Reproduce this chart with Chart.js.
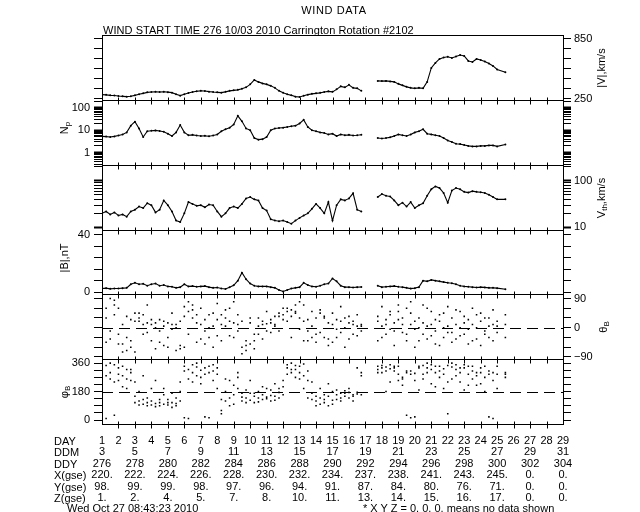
<!DOCTYPE html>
<html>
<head>
<meta charset="utf-8">
<script src="https://cdn.jsdelivr.net/npm/chart.js@4.4.1/dist/chart.umd.min.js"></script>
<style>
  html, body { margin: 0; padding: 0; background: #fff; }
  #wrap { position: relative; width: 640px; height: 512px; font-family: 'Liberation Sans', Arial, sans-serif; font-size: 11px; color: #000; }
  #wrap canvas { position: absolute; left: 0; top: 0; }
  .t { position: absolute; white-space: nowrap; line-height: 11px; }
  .r { position: absolute; white-space: nowrap; line-height: 11px; transform: translate(-50%, -50%) rotate(-90deg); }
  sub { font-size: 8px; vertical-align: -2px; line-height: 0; }
</style>
</head>
<body>
<div id="wrap">
  <canvas id="myChart" width="640" height="512"></canvas>
  <div class="t" style="left:334px;top:5px;transform:translateX(-50%);letter-spacing:0.6px">WIND DATA</div>
  <div class="t" style="left:103px;top:25px;letter-spacing:0.05px">WIND START TIME 276 10/03 2010 Carrington Rotation #2102</div>
  <div class="r" style="left:601px;top:68px">|V|,km/s</div>
  <div class="r" style="left:601px;top:198px">V<sub>th</sub>,km/s</div>
  <div class="r" style="left:603px;top:327px">&theta;<sub>B</sub></div>
  <div class="r" style="left:64px;top:128px">N<sub>p</sub></div>
  <div class="r" style="left:64px;top:258px">|B|,nT</div>
  <div class="r" style="left:64px;top:392px">&phi;<sub>B</sub></div>
  <div class="t" style="left:54px;top:435.5px">DAY</div>
  <div class="t" style="left:54px;top:447px">DDM</div>
  <div class="t" style="left:54px;top:458.5px">DDY</div>
  <div class="t" style="left:54px;top:470px">X(gse)</div>
  <div class="t" style="left:54px;top:481.5px">Y(gse)</div>
  <div class="t" style="left:54px;top:493px">Z(gse)</div>
  <div class="t" style="left:67px;top:503px">Wed Oct 27 08:43:23 2010</div>
  <div class="t" style="left:363px;top:503px">* X Y Z = 0. 0. 0. means no data shown</div>
</div>
<script>
const FONT = "'Liberation Sans', Arial, sans-serif";

// time of each sample, in days of the rotation
const days = [1.00,1.25,1.50,1.75,2.00,2.25,2.50,2.75,3.00,3.25,3.50,3.75,4.00,4.25,4.50,4.75,
  5.00,5.25,5.50,5.75,6.00,6.25,6.50,6.75,7.00,7.25,7.50,7.75,8.00,8.25,8.50,8.75,
  9.00,9.25,9.50,9.75,10.00,10.25,10.50,10.75,11.00,11.25,11.50,11.75,12.00,12.25,12.50,12.75,
  13.00,13.25,13.50,13.75,14.00,14.25,14.50,14.75,15.00,15.25,15.50,15.75,16.00,16.25,16.50,16.75,
  17.75,18.00,18.25,18.50,18.75,19.00,19.25,19.50,19.75,20.00,20.25,20.50,20.75,21.00,21.25,21.50,
  21.75,22.00,22.25,22.50,22.75,23.00,23.25,23.50,23.75,24.00,24.25,24.50,24.75,25.00,
  25.50];

// |V| km/s
const speed = [292,290,285,283, 278,275,272,276, 285,296,305,315, 318,320,318,321,
  317,312,295,282, 296,308,318,326, 330,328,322,318, 315,312,320,330,
  335,340,352,365, 395,440,420,405, 395,380,360,330, 310,295,285,272,
  268,280,292,300, 305,310,318,325, 320,345,375,365, 390,360,355,330,
  430, 428,430,425,420, 400,385,370,360, 355,360,355,420, 560,610,650,665,
  672,660,675,690, 680,630,620,650, 640,625,605,580, 545,
  517];

// Np
const density = [5.3,5.2,5.0,5.3, 5.8,6.5,8,16, 24,12,5,9, 9.5,9.8,9.2,8.5,
  7,5.5,8,17, 8,6,6.2,5.8, 5.5,5.6,5.4,5.8, 6.5,9,11,13,
  18,44,25,12, 10,4.5,3.8,4.0, 5.0,10,12,12.5, 13,14,15,16,
  20,29,14,10, 9,8,7.5,6.5, 7,5.5,6.5,6, 6.2,5.8,6.0,6.3,
  4.5, 4.3,4.5,4.8,5.5, 6.5,6.0,5.5,6.5, 8,9,11,7, 6.5,6.0,5.5,4.5,
  3.5,3.0,2.5,2.4, 2.2,2.0,1.9,1.9, 2.0,2.0,2.1,2.1, 1.9,
  2.3];

// Vth km/s
const thermal = [20,22,19,21, 18,19,17,22, 24,28,26,33, 30,21,24,38,
  30,22,14,13, 20,35,32,29, 30,27,31,30, 22,17,20,26,
  28,26,32,42, 45,40,38,26, 23,15,14,13.5, 14,13,12,14,
  16,18,20,25, 32,26,20,35, 14,30,40,38, 42,54,24,22,
  45, 52,48,46,38, 30,34,28,35, 26,30,33,48, 66,76,70,55,
  34,62,70,66, 58,56,60,58, 57,55,50,45, 40,
  40];

// |B| nT
const field = [2.5,2.8,2.3,2.6, 2.5,2.8,3.0,5.5, 6.5,5.5,5.8,4.5, 5.5,6.0,4.5,5.0,
  4.0,3.8,3.0,3.5, 5.5,4.0,4.2,3.8, 4.0,4.2,3.5,3.0, 3.2,2.5,2.2,3.5,
  4.8,8,13.5,9, 6,4.5,4.0,4.0, 4.0,3.5,3.0,1.5, 0.5,1.5,2.5,3.0,
  3.5,6.5,5.0,4.0, 3.8,4.5,5.5,6.0, 9.5,7.5,4.5,3.5, 3.5,3.2,3.5,3.6,
  4.5, 3.5,3.8,4.0,4.2, 3.8,3.5,3.0,2.5, 2.8,3.5,8.0,7.5, 8.5,8.0,7.5,7.0,
  6.5,6.2,5.5,4.5, 4.0,3.8,3.5,3.2, 3.5,3.3,3.0,3.0, 2.8,
  2.0];

// theta_B, three readings per sample time
const thetaA = [-40,-45,-35,85, 60,-50,-70,-60, 20,30,40,15, 10,0,-10,5,
  15,-5,10,-55, -60,50,70,40, 60,-10,-30,5, 25,10,30,20,
  15,40,-60,-70, -50,-40,-20,10, 12,15,5,35, 40,50,55,45,
  30,70,-10,-30, -20,45,35,-35, 10,-5,20,0, 15,10,5,10,
  20, 5,10,-5,15, 50,30,60,10, -5,0,-20,5, 10,-10,20,0,
  5,-15,10,0, 15,-5,10,0, 20,-10,5,10, 5,
  40];
const thetaB = [20,60,-10,40, -50,10,-30,25, -75,45,-20,70, -40,-65,25,-55,
  -30,45,-70,20, 65,-20,30,-45, 10,-50,40,-60, 75,-40,55,-25,
  80,-10,20,-40, 15,-20,30,-35, 50,-15,35,-10, 60,20,-30,70,
  -5,-40,25,50, -45,-15,30,-55, 45,-30,65,-60, 35,-20,40,-10,
  -40, 65,-20,40,-55, 25,-15,-40,45, -60,30,70,-35, 50,-50,40,-30,
  65,-45,55,-25, 35,-50,60,-35, 45,-20,30,-40, 20,
  -30];
const thetaC = [-50,30,90,70, -20,-75,35,-40, 45,20,10,-15, 25,15,-45,20,
  -60,10,0,-65, 35,80,55,15, -35,25,0,45, -25,40,5,60,
  -30,10,-80,-55, 30,-65,5,20, -10,25,10,45, 25,60,35,50,
  80,20,-40,5, 30,55,-30,15, -45,25,-15,30, -35,20,-25,5,
  35, -30,25,50,-10, 70,10,-20,80, 20,-40,15,60, -25,25,-55,45,
  -15,30,-35,50, -20,25,-40,40, -55,30,-30,55, -15,
  10];

// phi_B, three readings per sample time
const phiA = [330,345,300,350, 290,280,320,250, 110,95,100,110, 120,105,90,100,
  95,110,105,120, 310,320,300,335, 315,290,340,310, 290,130,120,140,
  160,200,145,140, 125,150,140,130, 145,155,150,175, 210,330,320,345,
  300,280,250,130, 120,140,110,150, 125,160,170,150, 175,160,165,280,
  320, 330,335,325,340, 250,270,300,310, 295,340,345,330, 320,340,310,325,
  345,335,320,300, 330,290,310,280, 300,270,290,300, 340,
  290];
const phiB = [20,280,360,240, 330,210,260,300, 150,180,130,90, 200,85,130,160,
  110,80,140,180, 15,260,350,280, 230,20,300,250, 330,60,180,250,
  100,270,170,110, 170,110,180,160, 200,120,230,140, 250,290,360,270,
  340,200,310,170, 90,100,160,90, 180,130,140,185, 140,120,330,160,
  340, 300,180,350,310, 290,220,30,15, 250,190,290,360, 230,300,270,200,
  40,260,350,240, 190,340,260,220, 330,180,20,250, 200,
  270];
const phiC = [300,10,260,30, 250,340,200,320, 240,120,280,140, 95,250,110,200,
  130,170,90,240, 340,10,240,360, 270,330,15,350, 200,40,260,90,
  220,300,120,190, 250,170,115,210, 135,190,125,200, 160,350,300,320,
  260,355,140,240, 150,200,130,230, 100,190,120,170, 200,150,175,300,
  300, 345,310,240,330, 340,260,310,290, 20,330,260,300, 350,210,340,290,
  240,360,280,330, 350,220,340,300, 230,340,310,10, 290,
  300];

// x axis table
const dayTicks = [1,2,3,4,5,6,7,8,9,10,11,12,13,14,15,16,17,18,19,20,21,22,23,24,25,26,27,28,29];
const ddm = ['3','5','7','9','11','13','15','17','19','21','23','25','27','29','31'];
const ddy = ['276','278','280','282','284','286','288','290','292','294','296','298','300','302','304'];
const xGse = ['220.','222.','224.','226.','228.','230.','232.','234.','237.','238.','241.','243.','245.','0.','0.'];
const yGse = ['98.','99.','99.','98.','97.','96.','94.','91.','87.','84.','80.','76.','71.','0.','0.'];
const zGse = ['1.','2.','4.','5.','7.','8.','10.','11.','13.','14.','15.','16.','17.','0.','0.'];

// y axis ticks and which of them carry a label
const vTicks = [250,350,450,550,650,750,850];
const vLabels = [250,850];
const npTicks = [0.3,0.4,0.5,0.6,0.7,0.8,0.9,1,2,3,4,5,6,7,8,9,10,20,30,40,50,60,70,80,90,100,200];
const npLabels = [1,10,100];
const vthTicks = [10,20,30,40,50,60,70,80,90,100,200];
const vthLabels = [10,100];
const bTicks = [0,8,16,24,32,40];
const bLabels = [0,40];
const thTicks = [-90,-60,-30,0,30,60,90];
const thLabels = [-90,0,90];
const phTicks = [0,45,90,135,180,225,270,315,360];
const phLabels = [0,180,360];

const leftIds = ['vL','npL','vthL','bL','thL','phL'];

function pts(ys) { return days.map((d, i) => ({ x: d, y: ys[i] })); }

function trace(ys, axis) {
  return { data: pts(ys), yAxisID: axis, borderColor: '#000', backgroundColor: '#000',
    borderWidth: 1.1, pointRadius: 1, pointBorderWidth: 0, spanGaps: 0.5 };
}
function cloud(ys, axis) {
  return { data: pts(ys), yAxisID: axis, showLine: false, pointStyle: 'rect',
    pointRadius: 1.1, pointBorderWidth: 0, backgroundColor: '#000', borderColor: '#000' };
}

function yAxis(side, type, min, max, ticks, labels, boldMajor) {
  return {
    axis: 'y', type: type, position: side, stack: side, stackWeight: 1,
    min: min, max: max,
    grid: { drawOnChartArea: false, color: '#000', tickLength: 8,
      tickWidth: c => (boldMajor && c.tick && c.tick.major) ? 2 : 1 },
    border: { display: false },
    ticks: { autoSkip: false, color: '#000', padding: side === 'left' ? 4 : 3,
      font: { family: FONT, size: 11 },
      callback: v => labels.includes(v) ? (v < 0 ? '\u2212' + (-v) : String(v)) : '' },
    afterBuildTicks: s => { s.ticks = ticks.map(v => ({ value: v, major: [1,10,100].includes(v) })); },
    afterFit: s => { s.width = side === 'left' ? 102 : 77; }
  };
}

const frames = {
  id: 'frames',
  beforeDatasetsDraw(chart) {
    const { ctx, chartArea: a, scales } = chart;
    ctx.save();
    ctx.strokeStyle = '#000';
    ctx.lineWidth = 1;
    ctx.setLineDash([11, 6]);
    [['thR', 0], ['phL', 180]].forEach(([id, v]) => {
      const y = Math.round(scales[id].getPixelForValue(v)) + 0.5;
      ctx.beginPath(); ctx.moveTo(a.left, y); ctx.lineTo(a.right, y); ctx.stroke();
    });
    ctx.restore();
  },
  afterDraw(chart) {
    const { ctx, chartArea: a, scales } = chart;
    ctx.save();
    ctx.strokeStyle = '#000';
    ctx.lineWidth = 1;
    const l = Math.round(a.left) + 0.5, r = Math.round(a.right) + 0.5;
    leftIds.forEach(id => {
      const s = scales[id];
      const t = Math.round(s.top) + 0.5, b = Math.round(s.bottom) + 0.5;
      ctx.strokeRect(l, t, r - l, b - t);
      ctx.beginPath();
      dayTicks.slice(1, -1).forEach(d => {
        const x = Math.round(scales.x.getPixelForValue(d)) + 0.5;
        ctx.moveTo(x, b - 3); ctx.lineTo(x, b + 4);
      });
      ctx.stroke();
    });
    ctx.restore();
  }
};

const ctx = document.getElementById('myChart').getContext('2d');
const myChart = new Chart(ctx, {
  type: 'line',
  data: {
    datasets: [
      trace(speed, 'vR'),
      trace(density, 'npL'),
      trace(thermal, 'vthR'),
      trace(field, 'bL'),
      cloud(thetaA, 'thR'), cloud(thetaB, 'thR'), cloud(thetaC, 'thR'),
      cloud(phiA, 'phL'), cloud(phiB, 'phL'), cloud(phiC, 'phL')
    ]
  },
  options: {
    responsive: false,
    animation: false,
    devicePixelRatio: 1,
    layout: { padding: { top: 35, left: 0, right: 0, bottom: 0 } },
    plugins: { legend: { display: false }, tooltip: { enabled: false } },
    scales: {
      x: {
        type: 'linear', position: 'bottom', min: 1, max: 29,
        grid: { display: false, drawTicks: false },
        border: { display: false },
        afterBuildTicks: s => { s.ticks = dayTicks.map(v => ({ value: v })); },
        ticks: {
          autoSkip: false, maxRotation: 0, padding: 11, color: '#000',
          font: { family: FONT, size: 11, lineHeight: 1.04 },
          callback: (v, i) => {
            const k = i / 2;
            const on = i % 2 === 0;
            return [String(dayTicks[i]), on ? ddm[k] : '', on ? ddy[k] : '',
              on ? xGse[k] : '', on ? yGse[k] : '', on ? zGse[k] : ''];
          }
        },
        afterFit: s => { s.height = 88; }
      },
      // left stack is laid out bottom-up, so list it from the lowest panel
      phL: yAxis('left', 'linear', -25, 385, phTicks, phLabels),
      thL: yAxis('left', 'linear', -97, 103, thTicks, []),
      bL: yAxis('left', 'linear', -1.5, 43.5, bTicks, bLabels),
      vthL: yAxis('left', 'logarithmic', 9, 223, vthTicks, [], true),
      npL: yAxis('left', 'logarithmic', 0.29, 227, npTicks, npLabels, true),
      vL: yAxis('left', 'linear', 240, 890, vTicks, []),
      vR: yAxis('right', 'linear', 240, 890, vTicks, vLabels),
      npR: yAxis('right', 'logarithmic', 0.29, 227, npTicks, [], true),
      vthR: yAxis('right', 'logarithmic', 9, 223, vthTicks, vthLabels, true),
      bR: yAxis('right', 'linear', -1.5, 43.5, bTicks, []),
      thR: yAxis('right', 'linear', -97, 103, thTicks, thLabels),
      phR: yAxis('right', 'linear', -25, 385, phTicks, [])
    }
  },
  plugins: [frames]
});
</script>
</body>
</html>
